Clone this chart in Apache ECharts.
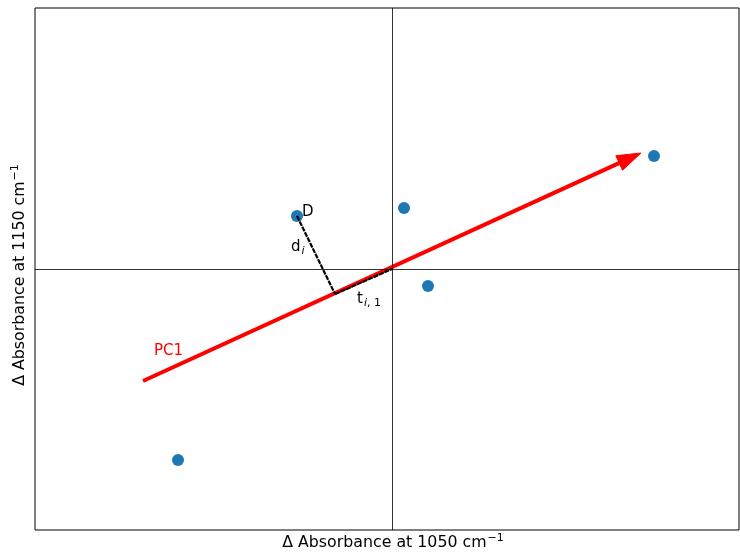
<!DOCTYPE html>
<html><head><meta charset="utf-8">
<script src="https://cdn.jsdelivr.net/npm/echarts@6/dist/echarts.min.js"></script>
<style>html,body{margin:0;padding:0;background:#fff}#c{width:740px;height:554px}</style>
</head><body><div id="c"></div>
<script>
// data
const pointX = [-2.14, -0.95, 0.12, 0.36, 2.62];
const pointY = [-1.91, 0.53, 0.61, -0.17, 1.13];
const pcStart = [-2.49, -1.12];
const pcEnd = [2.49, 1.16];
const pointD = [-0.95, 0.53];
const footD = [-0.57, -0.25];
const origin = [0, 0];
const annoText = ['D', 'd', 't', 'PC1'];
const annoX = [-0.90, -1.01, -0.35, -2.38];
const annoY = [0.57, 0.22, -0.30, -0.82];
const xTitle = 'Δ Absorbance at 1050 cm';
const yTitle = 'Δ Absorbance at 1150 cm';
const titleSup = '−1';

const FONT = 'DejaVu Sans';
const chart = echarts.init(document.getElementById('c'));
const annoRich = [
  '{n|D}',
  '{n|d}{s|i}',
  '{n|t}{s|i}{u|, 1}',
  '{r|PC1}'
];
const titleRich = {
  a: {fontFamily: FONT, fontSize: 15.8, color: '#000'},
  s: {fontFamily: FONT, fontSize: 11, color: '#000', padding: [0, 0, 9, 1]}
};
chart.setOption({
  animation: false,
  grid: {left: 35, top: 8, width: 704, height: 522, show: true, borderColor: '#000', borderWidth: 1, backgroundColor: 'transparent'},
  xAxis: {type: 'value', min: -3.57, max: 3.47, axisLine: {show: false}, axisTick: {show: false}, axisLabel: {show: false}, splitLine: {show: false}},
  yAxis: {type: 'value', min: -2.61, max: 2.61, axisLine: {show: false}, axisTick: {show: false}, axisLabel: {show: false}, splitLine: {show: false}},
  graphic: [
    {type: 'text', x: 393, y: 543, style: {text: '{a|' + xTitle + '}{s|' + titleSup + '}', rich: titleRich, textAlign: 'center', textVerticalAlign: 'middle', align: 'center', verticalAlign: 'middle'}},
    {type: 'text', x: 20, y: 275, rotation: Math.PI / 2, style: {text: '{a|' + yTitle + '}{s|' + titleSup + '}', rich: titleRich, textAlign: 'center', textVerticalAlign: 'middle', align: 'center', verticalAlign: 'middle'}}
  ],
  series: [
    {
      type: 'scatter', z: 2,
      data: pointX.map((x, i) => [x, pointY[i]]),
      symbolSize: 12, itemStyle: {color: '#1f77b4', opacity: 1},
      markLine: {silent: true, symbol: 'none', label: {show: false}, animation: false,
        lineStyle: {color: '#000', width: 0.8, type: 'solid'},
        data: [{xAxis: 0}, {yAxis: 0}]}
    },
    {
      type: 'custom', z: 3,
      data: [[pcStart[0], pcStart[1], pcEnd[0], pcEnd[1]]],
      renderItem: function (params, api) {
        const p0 = api.coord([api.value(0), api.value(1)]);
        const p1 = api.coord([api.value(2), api.value(3)]);
        const dx = p1[0] - p0[0], dy = p1[1] - p0[1];
        const L = Math.sqrt(dx * dx + dy * dy);
        const ux = dx / L, uy = dy / L;
        const headLen = 24, headHalf = 8;
        const bx = p1[0] - ux * headLen, by = p1[1] - uy * headLen;
        const nx = -uy, ny = ux;
        return {
          type: 'group',
          children: [
            {type: 'line', shape: {x1: p0[0], y1: p0[1], x2: bx + ux * 1, y2: by + uy * 1}, style: {stroke: '#ff0000', lineWidth: 4, lineCap: 'butt'}},
            {type: 'polygon', shape: {points: [[p1[0], p1[1]], [bx + nx * headHalf, by + ny * headHalf], [bx - nx * headHalf, by - ny * headHalf]]}, style: {fill: '#ff0000', stroke: '#ff0000', lineWidth: 1}}
          ]
        };
      }
    },
    {
      type: 'line', z: 4, symbol: 'none', silent: true,
      data: [pointD, footD],
      lineStyle: {color: '#000', width: 2.2, type: [5, 1]}
    },
    {
      type: 'line', z: 4, symbol: 'none', silent: true,
      data: [footD, origin],
      lineStyle: {color: '#000', width: 2.2, type: [5, 1]}
    },
    {
      type: 'scatter', z: 5, symbolSize: 0, silent: true,
      itemStyle: {opacity: 1},
      data: annoX.map((x, i) => ({value: [x, annoY[i]], name: annoText[i]})),
      label: {
        show: true, position: 'right', distance: 0, color: '#000', opacity: 1,
        formatter: function (p) { return annoRich[p.dataIndex]; },
        rich: {
          n: {fontFamily: FONT, fontSize: 15, color: '#000'},
          s: {fontFamily: FONT, fontSize: 11, color: '#000', fontStyle: 'italic', padding: [8, 0, 0, 1]},
          u: {fontFamily: FONT, fontSize: 11, color: '#000', padding: [8, 0, 0, 0]},
          r: {fontFamily: FONT, fontSize: 15, color: '#ff0000'}
        }
      }
    }
  ]
});
</script></body></html>
